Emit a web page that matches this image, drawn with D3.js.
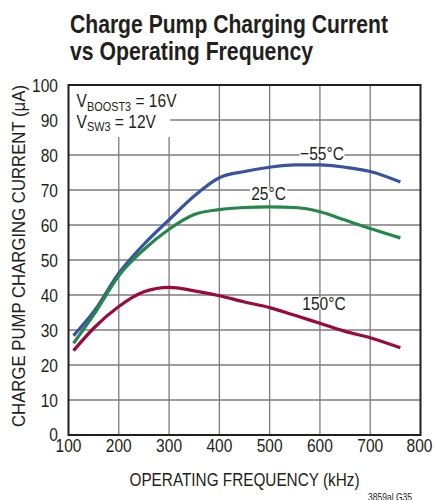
<!DOCTYPE html>
<html>
<head>
<meta charset="utf-8">
<script src="https://cdn.jsdelivr.net/npm/d3@7"></script>
<style>
  html, body { margin: 0; padding: 0; background: #fff; }
  svg { display: block; }
  text { font-family: "Liberation Sans", Arial, sans-serif; fill: #231f20; }
</style>
</head>
<body>
<svg id="chart" width="434" height="500"></svg>
<script>
// ---- data ----
const freqKHz   = [110, 150, 200, 250, 300, 350, 400, 450, 500, 550, 600, 650, 700, 760];
const currMinus55 = [28.4, 35.2, 46.2, 54.5, 61.5, 68.3, 73.5, 75.3, 76.5, 77.2, 77.2, 76.5, 75.3, 72.3];
const curr25      = [26.2, 34.3, 45.5, 53.0, 58.8, 63.0, 64.4, 65.0, 65.2, 65.0, 63.8, 61.4, 59.0, 56.3];
const curr150     = [24.1, 30.5, 36.7, 40.9, 42.2, 41.2, 39.8, 38.0, 36.4, 34.2, 31.9, 29.6, 27.8, 24.9];
const xTicks = [100, 200, 300, 400, 500, 600, 700, 800];
const yTicks = [0, 10, 20, 30, 40, 50, 60, 70, 80, 90, 100];
const seriesNames = ["\u221255\u00B0C", "25\u00B0C", "150\u00B0C"];
const seriesColors = ["#3953a4", "#25884a", "#9a0a3c"];
const titleLines = ["Charge Pump Charging Current", "vs Operating Frequency"];

const svg = d3.select("#chart");
const L = 68.5, R = 420.5, T = 85, B = 435;
const x = d3.scaleLinear().domain([100, 800]).range([L, R]);
const y = d3.scaleLinear().domain([0, 100]).range([B, T]);
const FS = 18.5, SQ = 0.84; // font size, horizontal condensing

function narrow(sel) {
  sel.each(function () {
    const w = this.getComputedTextLength();
    d3.select(this).attr("textLength", w * SQ).attr("lengthAdjust", "spacingAndGlyphs");
  });
  return sel;
}

// title
svg.append("text").attr("x", 70).attr("y", 33).attr("font-size", 26).attr("font-weight", "bold")
  .attr("textLength", 318).attr("lengthAdjust", "spacingAndGlyphs").text(titleLines[0]);
svg.append("text").attr("x", 70).attr("y", 59.5).attr("font-size", 26).attr("font-weight", "bold")
  .attr("textLength", 243).attr("lengthAdjust", "spacingAndGlyphs").text(titleLines[1]);

// grid
const grid = svg.append("g").attr("stroke", "#7d7d7d").attr("stroke-width", 1.3);
grid.selectAll("line.v").data(xTicks.slice(1, -1)).join("line")
  .attr("x1", d => x(d)).attr("x2", d => x(d)).attr("y1", T).attr("y2", B);
grid.selectAll("line.h").data(yTicks.slice(1, -1)).join("line")
  .attr("x1", L).attr("x2", R).attr("y1", d => y(d)).attr("y2", d => y(d));

// annotation box (white background)
svg.append("rect").attr("x", L + 1).attr("y", T + 1).attr("width", 192 - L).attr("height", 118 - T).attr("fill", "#fff");
svg.append("rect").attr("x", L + 1).attr("y", 117).attr("width", 169 - L).attr("height", 20).attr("fill", "#fff");
function annot(yy, sub, rest) {
  const g = svg.append("g").attr("transform", `translate(76.5,${yy}) scale(${SQ},1)`);
  const t = g.append("text").attr("x", 0).attr("y", 0).attr("font-size", FS);
  t.append("tspan").text("V");
  t.append("tspan").attr("font-size", 13).attr("dy", 3.5).text(sub);
  t.append("tspan").attr("dy", -3.5).text(rest);
}
annot(107, "BOOST3", " = 16V");
annot(127.5, "SW3", " = 12V");

// curves
const allSeries = [currMinus55, curr25, curr150];
const line = d3.line().x((d, i) => x(freqKHz[i])).y(d => y(d)).curve(d3.curveMonotoneX);
svg.append("g").selectAll("path").data(allSeries).join("path")
  .attr("d", d => line(d)).attr("fill", "none")
  .attr("stroke", (d, i) => seriesColors[i]).attr("stroke-width", 3.2)
  .attr("stroke-linecap", "butt").attr("stroke-linejoin", "round");

// curve labels with white background
const labelPos = [[322, 153], [268.5, 193.5], [324, 303.5]];
labelPos.forEach((p, i) => {
  const t = svg.append("text").attr("x", p[0]).attr("y", p[1] + 6.5).attr("text-anchor", "middle")
    .attr("font-size", FS).text(seriesNames[i]);
  narrow(t);
  const w = t.node().getComputedTextLength() * SQ;
  svg.insert("rect", () => t.node()).attr("x", p[0] - w / 2 - 4).attr("y", p[1] - 6).attr("width", w + 8)
    .attr("height", 12).attr("fill", "#fff");
});

// frame
svg.append("rect").attr("x", L).attr("y", T).attr("width", R - L).attr("height", B - T)
  .attr("fill", "none").attr("stroke", "#231f20").attr("stroke-width", 2);

// tick labels
narrow(svg.append("g").selectAll("text").data(yTicks).join("text")
  .attr("x", 58).attr("y", d => y(d) + (d === 0 ? 5.5 : 6.5)).attr("text-anchor", "end").attr("font-size", FS)
  .text(d => d));
narrow(svg.append("g").selectAll("text").data(xTicks).join("text")
  .attr("x", d => x(d) - (d === 800 ? 1 : 0)).attr("y", 452).attr("text-anchor", "middle").attr("font-size", FS)
  .text(d => d));

// axis titles
svg.append("text").attr("x", (L + R) / 2).attr("y", 486).attr("text-anchor", "middle").attr("font-size", FS)
  .attr("textLength", 230).attr("lengthAdjust", "spacingAndGlyphs")
  .text("OPERATING FREQUENCY (kHz)");
svg.append("text").attr("transform", `translate(25,${(T + B) / 2 - 4}) rotate(-90)`).attr("text-anchor", "middle")
  .attr("font-size", FS).attr("textLength", 342).attr("lengthAdjust", "spacingAndGlyphs")
  .text("CHARGE PUMP CHARGING CURRENT (\u03BCA)");

// footnote
svg.append("text").attr("x", 412).attr("y", 501).attr("text-anchor", "end").attr("font-size", 11)
  .attr("textLength", 44).attr("lengthAdjust", "spacingAndGlyphs").text("3859al G35");
</script>
</body>
</html>
